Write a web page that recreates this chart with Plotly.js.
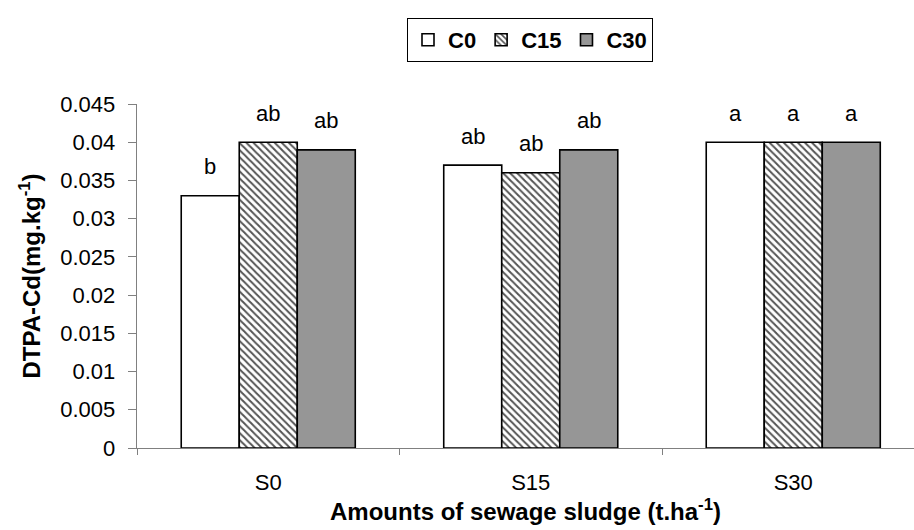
<!DOCTYPE html>
<html><head><meta charset="utf-8">
<script src="https://cdn.plot.ly/plotly-3.0.1.min.js"></script>
<style>html,body{margin:0;padding:0;background:#fff}</style>
</head><body>
<div id="chart" style="width:914px;height:530px"></div>
<script>
const categories = ["S0", "S15", "S30"];
const seriesNames = ["C0", "C15", "C30"];
const c0 = [0.033, 0.037, 0.040];
const c15 = [0.040, 0.036, 0.040];
const c30 = [0.039, 0.039, 0.040];
const lettersC0 = ["b", "ab", "a"];
const lettersC15 = ["ab", "ab", "a"];
const lettersC30 = ["ab", "ab", "a"];

const FONT = "Liberation Sans, Arial, sans-serif";
const bargap = 0.337;
const values = [c0, c15, c30];
const letters = [lettersC0, lettersC15, lettersC30];
const markers = [
  {color: "#ffffff", line: {color: "#000", width: 1.6}},
  {color: "#ffffff", line: {color: "#000", width: 1.6},
   pattern: {shape: "\\", fgcolor: "#555555", bgcolor: "#ffffff", size: 5, solidity: 0.4}},
  {color: "#969696", line: {color: "#000", width: 1.6}}
];
const traces = values.map((v, i) => ({
  type: "bar", name: seriesNames[i], x: categories, y: v, marker: markers[i]
}));

const w = (1 - bargap) / 3;
const annotations = [];
values.forEach((v, i) => {
  v.forEach((val, j) => {
    annotations.push({
      x: j + (i - 1) * w, y: val, xref: "x", yref: "y",
      text: letters[i][j], showarrow: false, yanchor: "middle", yshift: 29,
      font: {family: FONT, size: 22, color: "#000"}
    });
  });
});

const layout = {
  width: 914, height: 530,
  margin: {l: 137, r: 0, t: 104, b: 82},
  paper_bgcolor: "#fff", plot_bgcolor: "#fff",
  barmode: "group", bargap: bargap, bargroupgap: 0,
  font: {family: FONT, size: 22, color: "#000"},
  showlegend: true,
  legend: {
    orientation: "h", xref: "container", yref: "container",
    x: 530 / 914, xanchor: "center", y: 1 - 18 / 530, yanchor: "top",
    bordercolor: "#000", borderwidth: 1,
    font: {family: FONT, size: 22, color: "#000", weight: "bold"},
    itemwidth: 30, traceorder: "normal"
  },
  xaxis: {
    type: "category", range: [-0.5, 2.46],
    tickson: "boundaries", ticks: "outside", ticklen: 6, tickcolor: "#808080",
    ticklabelstandoff: 14,
    showline: true, linecolor: "#808080", linewidth: 1.3,
    showgrid: false, zeroline: false,
    tickfont: {family: FONT, size: 22, color: "#000"},
    title: {text: "Amounts of sewage sludge (t.ha<sup>-1</sup>)", standoff: 4,
            font: {family: FONT, size: 24, color: "#000", weight: "bold"}}
  },
  yaxis: {
    range: [0, 0.045], dtick: 0.005, tick0: 0,
    ticks: "outside", ticklen: 8, tickcolor: "#808080",
    ticklabelstandoff: 8,
    showline: true, linecolor: "#808080", linewidth: 1.3,
    showgrid: false, zeroline: false,
    tickfont: {family: FONT, size: 22, color: "#000"},
    title: {text: "DTPA-Cd(mg.kg<sup>-1</sup>)", standoff: 12,
            font: {family: FONT, size: 24, color: "#000", weight: "bold"}}
  },
  annotations: annotations
};
Plotly.newPlot("chart", traces, layout, {displayModeBar: false, staticPlot: true});
</script>
</body></html>
